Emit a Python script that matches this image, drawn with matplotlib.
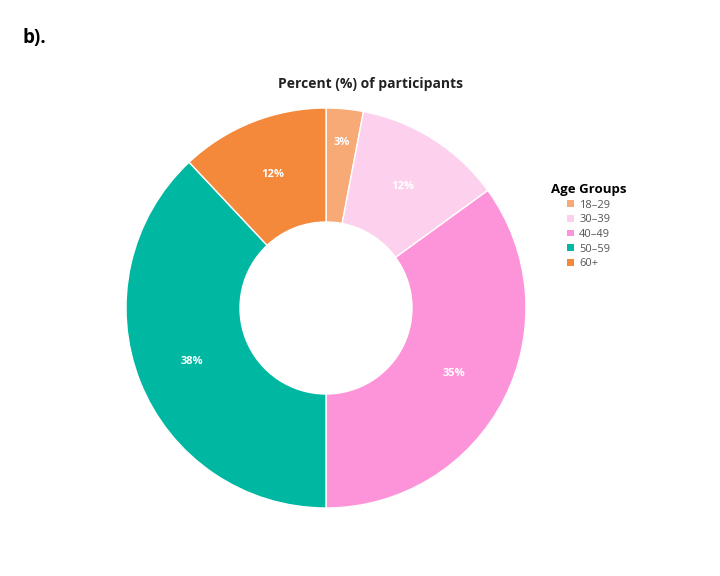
import matplotlib
matplotlib.use("Agg")
import matplotlib.pyplot as plt
import numpy as np

# data
age_groups = ["18\u201329", "30\u201339", "40\u201349", "50\u201359", "60+"]
percents = [3, 12, 35, 38, 12]
colors = ["#F7AA76", "#FDD1EE", "#FD94D9", "#00B7A1", "#F4883B"]

plt.rcParams['font.family'] = ['Open Sans', 'DejaVu Sans']

fig = plt.figure(figsize=(7.2, 5.76), dpi=100)
ax = fig.add_axes([126/720, 68/576, 400/720, 400/576])

wedges, _ = ax.pie(percents, colors=colors, startangle=90, counterclock=False,
                   radius=1.0, wedgeprops=dict(width=0.57, edgecolor="white", linewidth=1))
ax.set_xlim(-1, 1)
ax.set_ylim(-1, 1)
ax.set_aspect("equal")
ax.axis("off")

# percent labels, small slice pushed outward a bit
label_r = [0.83, 0.72, 0.72, 0.72, 0.72]
for w, p, r in zip(wedges, percents, label_r):
    ang = np.deg2rad((w.theta1 + w.theta2) / 2)
    ax.text(r*np.cos(ang), r*np.sin(ang), f"{p}%", ha="center", va="center",
            color="white", fontsize=8, fontweight="bold")

fig.text(22/720, 1-38/576, "b).", fontsize=13.5, fontweight="bold", ha="left", va="center")
fig.text(371/720, 1-84/576, "Percent (%) of participants", fontsize=10,
         fontweight="bold", ha="center", va="center", color="#222222")

leg = fig.legend(wedges, age_groups, title="Age Groups", loc="upper left",
                 bbox_to_anchor=(551/720, 1-183/576), frameon=False, fontsize=8,
                 handlelength=0.55, handleheight=0.55, handletextpad=0.5,
                 labelspacing=0.33, borderaxespad=0, borderpad=0)
leg.get_title().set_fontweight("bold")
leg.get_title().set_fontsize(9.5)
for t in leg.get_texts():
    t.set_color("#555555")
for h in leg.legend_handles:
    h.set_edgecolor("none")

fig.savefig("out.png", dpi=100)
